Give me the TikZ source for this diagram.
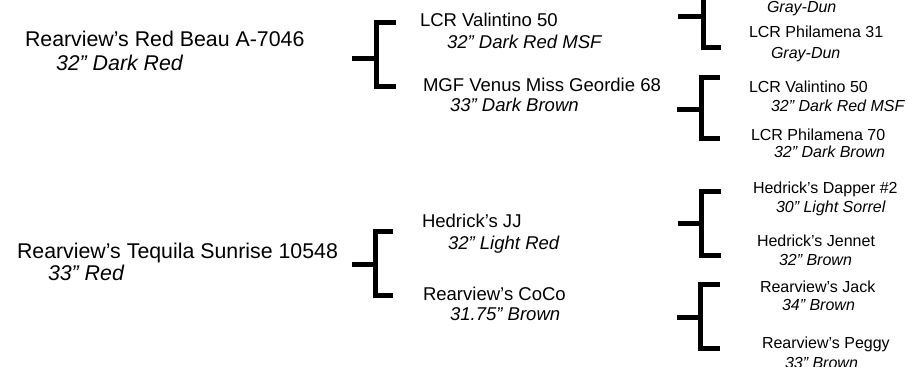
\documentclass[tikz,border=0pt]{standalone}
\usepackage{fontspec}
\setmainfont{Liberation Sans}
\begin{document}
\begin{tikzpicture}[x=0.75pt,y=-0.75pt,
  lab/.style={anchor=base west,inner sep=0pt,outer sep=0pt},
  one/.style={lab,font=\fontsize{16}{19}\selectfont},
  onei/.style={lab,font=\fontsize{16}{19}\selectfont\itshape},
  two/.style={lab,font=\fontsize{13.9}{16}\selectfont},
  twoi/.style={lab,font=\fontsize{13.9}{16}\selectfont\itshape},
  three/.style={lab,font=\fontsize{12}{14}\selectfont},
  threei/.style={lab,font=\fontsize{12}{14}\selectfont\itshape},
  brk/.style={line width=3.75pt,line join=miter}]
\useasboundingbox (0,0) rectangle (907,367);
\clip (0,0) rectangle (907,367);
% level 1
\node[one]  (a)  at (25,47)  {Rearview’s Red Beau A-7046};
\node[onei] (as) at (56,71)  {32” Dark Red};
\node[one]  (b)  at (17,258) {Rearview’s Tequila Sunrise 10548};
\node[onei] (bs) at (48,280) {33” Red};
% level 2
\node[two]  (a1)  at (420,27)  {LCR Valintino 50};
\node[twoi] (a1s) at (447,49)  {32” Dark Red MSF};
\node[two]  (a2)  at (423,92)  {MGF Venus Miss Geordie 68};
\node[twoi] (a2s) at (450,112) {33” Dark Brown};
\node[two]  (b1)  at (422,228) {Hedrick’s JJ};
\node[twoi] (b1s) at (448,249) {32” Light Red};
\node[two]  (b2)  at (423,300) {Rearview’s CoCo};
\node[twoi] (b2s) at (450,320) {31.75” Brown};
% level 3
\node[threei] (a11s) at (767,13)  {Gray-Dun};
\node[three]  (a12)  at (749,38)  {LCR Philamena 31};
\node[threei] (a12s) at (771,59)  {Gray-Dun};
\node[three]  (a21)  at (749,93)  {LCR Valintino 50};
\node[threei] (a21s) at (771,112) {32” Dark Red MSF};
\node[three]  (a22)  at (751,141) {LCR Philamena 70};
\node[threei] (a22s) at (774,158) {32” Dark Brown};
\node[three]  (b11)  at (753,194) {Hedrick’s Dapper \#2};
\node[threei] (b11s) at (776,213) {30” Light Sorrel};
\node[three]  (b12)  at (757,247) {Hedrick’s Jennet};
\node[threei] (b12s) at (779,265) {32” Brown};
\node[three]  (b21)  at (760,292) {Rearview’s Jack};
\node[threei] (b21s) at (782,310) {34” Brown};
\node[three]  (b22)  at (762,348) {Rearview’s Peggy};
\node[threei] (b22s) at (785,368) {33” Brown};
% brackets: stub start, joint, top arm end, bottom arm end
\foreach \n/\sx/\vx/\ym/\yt/\yb/\ax in {
  ba/352/376/59/23/87/396,
  bb/352/375/264/232/295/393,
  ba1/678/703/17/-10/48/721,
  ba2/677/701/110/78/139/720,
  bb1/678/701/224/192/255/721,
  bb2/677/700/317/284/348/720}{
  \coordinate (\n-s) at (\sx,\ym);
  \coordinate (\n-j) at (\vx,\ym);
  \coordinate (\n-t) at (\ax,\yt);
  \coordinate (\n-b) at (\ax,\yb);
  \draw[brk] (\n-t) -| (\n-j) |- (\n-b);
  \draw[brk] (\n-s) -- (\n-j);
}
\end{tikzpicture}
\end{document}
